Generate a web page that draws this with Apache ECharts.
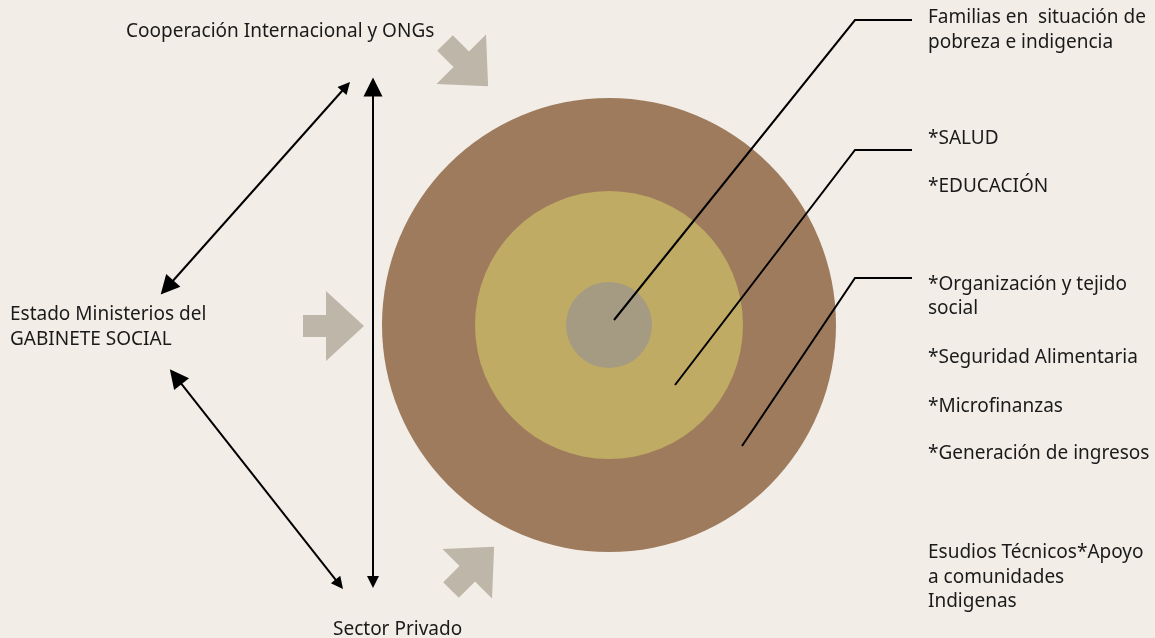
<!DOCTYPE html>
<html>
<head>
<meta charset="UTF-8">
<title>Esquema gabinete social</title>
<script src="https://cdn.jsdelivr.net/npm/echarts@6/dist/echarts.min.js"></script>
<style>
html, body { margin: 0; padding: 0; background: #f2ede7; }
#main { width: 1155px; height: 638px; }
</style>
</head>
<body>
<div id="main"></div>
<script>
// plano en px: x 0..1155, y 0..638 (hacia abajo)
var center = [609, 325];
var ringRadii = [227, 134, 43];

// lineas guia: punto dentro del circulo -> codo -> fin
var leaderLines = [
  [[614, 320], [855, 20], [912, 20]],
  [[675, 385], [855, 150], [912, 150]],
  [[742, 446], [855, 278], [912, 278]]
];

// flechas dobles negras (puntas)
var doubleArrows = [
  [[373, 81], [373, 588]],
  [[163, 292], [350, 82]],
  [[172, 372], [343, 589]]
];

// flechas grises: cola y angulo en grados
var blockTails = [[445, 43], [303, 326], [451, 590]];
var blockAngles = [45, 0, -45];

var rightTexts = [
  'Familias en  situación de', 'pobreza e indigencia',
  '*SALUD', '*EDUCACIÓN',
  '*Organización y tejido', 'social',
  '*Seguridad Alimentaria', '*Microfinanzas', '*Generación de ingresos',
  'Esudios Técnicos*Apoyo', 'a comunidades', 'Indigenas'
];
var rightTextY = [18, 43, 139, 187, 285, 309, 358, 407, 454, 553, 578, 602];
var rightTextX = 928;

var leftTexts = ['Cooperación Internacional y ONGs', 'Estado Ministerios del', 'GABINETE SOCIAL', 'Sector Privado'];
var leftTextPos = [[126, 32], [10, 315], [10, 340], [333, 630]];

var ringColors = ['#9e7b5d', '#bfab63', '#a59b82'];
var blockColor = '#bfb6aa';
var FONT = 'Noto Sans';
var FSIZE = 19;

var myChart = echarts.init(document.getElementById('main'));

// flecha hacia +x, origen en el centro de la cola
var arrowShape = [[0, -11], [23, -11], [23, -35], [61, 0], [23, 35], [23, 11], [0, 11]];

// acortar cada extremo para que la punta quede en su sitio
var arrowData = doubleArrows.map(function (p) {
  var dx = p[1][0] - p[0][0], dy = p[1][1] - p[0][1];
  var len = Math.sqrt(dx * dx + dy * dy), k = 6 / len;
  return { coords: [[p[0][0] + dx * k, p[0][1] + dy * k], [p[1][0] - dx * k, p[1][1] - dy * k]] };
});

var textData = [];
rightTexts.forEach(function (t, i) { textData.push([rightTextX, rightTextY[i], t]); });
leftTexts.forEach(function (t, i) { textData.push([leftTextPos[i][0], leftTextPos[i][1], t]); });

var option = {
  backgroundColor: '#f2ede7',
  animation: false,
  grid: { left: 0, right: 0, top: 0, bottom: 0 },
  xAxis: { type: 'value', min: 0, max: 1155, show: false },
  yAxis: { type: 'value', min: 0, max: 638, inverse: true, show: false },
  series: [
    {
      type: 'custom',
      data: ringRadii.map(function (r) { return [center[0], center[1], r]; }),
      renderItem: function (params, api) {
        var c = api.coord([api.value(0), api.value(1)]);
        var r = Math.abs(api.size([api.value(2), 0])[0]);
        return { type: 'circle', shape: { cx: c[0], cy: c[1], r: r }, style: { fill: ringColors[params.dataIndex] } };
      },
      z: 1
    },
    {
      type: 'custom',
      data: blockTails.map(function (t, i) { return [t[0], t[1], blockAngles[i]]; }),
      renderItem: function (params, api) {
        var x0 = api.value(0), y0 = api.value(1), a = api.value(2) * Math.PI / 180;
        var cs = Math.cos(a), sn = Math.sin(a);
        var pts = arrowShape.map(function (p) {
          return api.coord([x0 + p[0] * cs - p[1] * sn, y0 + p[0] * sn + p[1] * cs]);
        });
        return { type: 'polygon', shape: { points: pts }, style: { fill: blockColor } };
      },
      z: 2
    },
    {
      type: 'lines',
      coordinateSystem: 'cartesian2d',
      polyline: true,
      data: leaderLines.map(function (l) { return { coords: l }; }),
      lineStyle: { color: '#000', width: 2, opacity: 1 },
      symbol: 'none',
      z: 3
    },
    {
      type: 'lines',
      coordinateSystem: 'cartesian2d',
      data: arrowData,
      lineStyle: { color: '#000', width: 2, opacity: 1 },
      symbol: ['triangle', 'triangle'],
      symbolSize: [19, 12],
      z: 3
    },
    {
      type: 'custom',
      data: textData,
      renderItem: function (params, api) {
        var c = api.coord([api.value(0), api.value(1)]);
        return {
          type: 'text',
          x: c[0], y: c[1],
          style: {
            text: textData[params.dataIndex][2],
            fill: '#1a1a1a',
            fontFamily: FONT,
            fontSize: FSIZE,
            align: 'left',
            verticalAlign: 'middle'
          }
        };
      },
      z: 4
    }
  ]
};
myChart.setOption(option);
</script>
</body>
</html>
